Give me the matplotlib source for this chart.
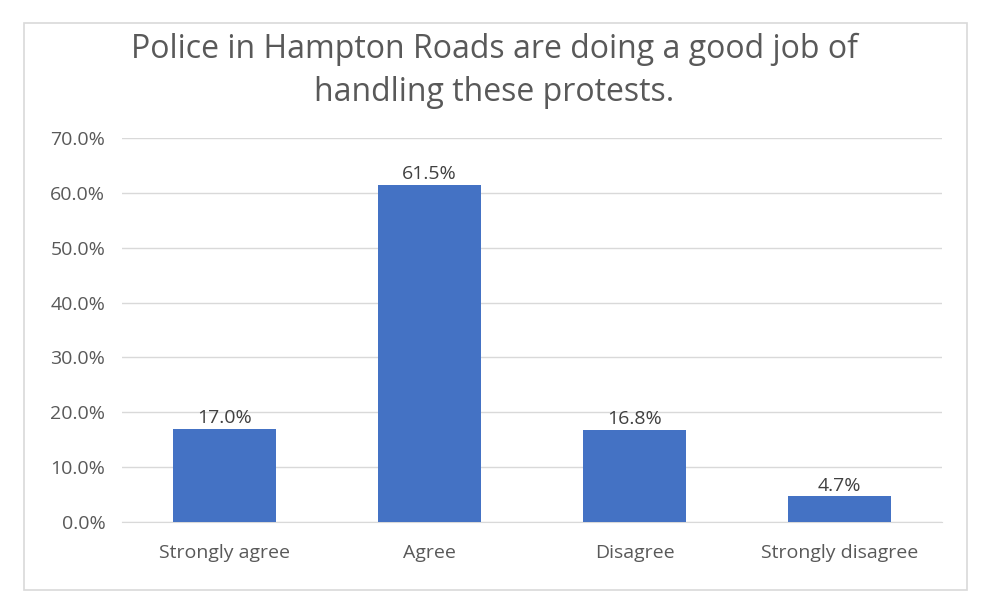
import matplotlib.pyplot as plt
from matplotlib.patches import Rectangle

categories = ['Strongly agree', 'Agree', 'Disagree', 'Strongly disagree']
values = [17.0, 61.5, 16.8, 4.7]
yticks = [0, 10, 20, 30, 40, 50, 60, 70]
title = 'Police in Hampton Roads are doing a good job of\nhandling these protests.'

plt.rcParams['font.family'] = ['Open Sans', 'DejaVu Sans']
text_color = '#595959'

fig = plt.figure(figsize=(9.88, 6.08), dpi=100)
fig.patches.append(Rectangle((24 / 988, 1 - 590 / 608), 943 / 988, 567 / 608,
                             transform=fig.transFigure, fill=False,
                             edgecolor='#D9D9D9', linewidth=1.2))
ax = fig.add_axes([122 / 988, 1 - 522 / 608, 820 / 988, 384 / 608])

x = range(len(categories))
bars = ax.bar(x, values, width=0.5, color='#4472C4', zorder=3)
for b, v in zip(bars, values):
    ax.text(b.get_x() + b.get_width() / 2, v + 0.3, '{:.1f}%'.format(v),
            ha='center', va='bottom', fontsize=14, color='#404040')

ax.set_xlim(-0.5, len(categories) - 0.5)
ax.set_ylim(0, 70)
ax.set_yticks(yticks)
ax.set_yticklabels(['{:.1f}%'.format(t) for t in yticks])
ax.set_xticks(list(x))
ax.set_xticklabels(categories)
ax.tick_params(axis='both', length=0, labelsize=14, colors=text_color)
ax.tick_params(axis='x', pad=16)
ax.tick_params(axis='y', pad=12)
ax.grid(axis='y', color='#D9D9D9', linewidth=1, zorder=0)
for s in ['top', 'right', 'left']:
    ax.spines[s].set_visible(False)
ax.spines['bottom'].set_color('#D9D9D9')

fig.text(0.5, 1 - 71 / 608, title, ha='center', va='center',
         fontsize=23, color=text_color, linespacing=1.38)

plt.savefig('out.png', dpi=100)
